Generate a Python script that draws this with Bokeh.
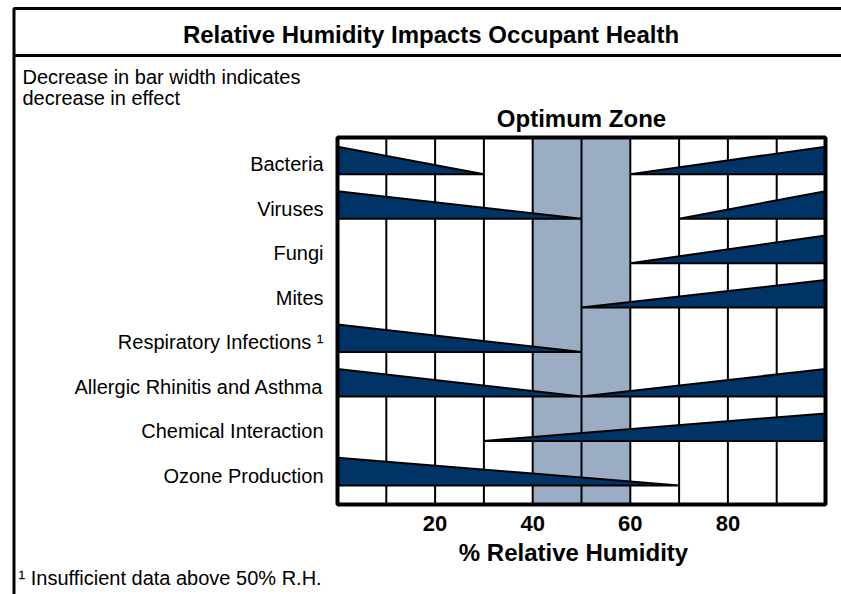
from bokeh.plotting import figure
from bokeh.models import Range1d, ColumnDataSource
from bokeh.core.properties import value
from bokeh.embed import file_html
from bokeh.resources import INLINE

# ---------------- data ----------------
categories = ["Bacteria", "Viruses", "Fungi", "Mites",
              "Respiratory Infections \u00b9", "Allergic Rhinitis and Asthma",
              "Chemical Interaction", "Ozone Production"]
# effect decreasing from 0 % RH up to this value (None = no low-humidity wedge)
low_end = [30, 50, None, None, 50, 50, None, 70]
# effect increasing from this value up to 100 % RH (None = no high-humidity wedge)
high_start = [60, 70, 60, 50, None, 50, 30, None]
optimum_zone = [40, 60]
grid_values = [10, 20, 30, 40, 50, 60, 70, 80, 90]
tick_values = [20, 40, 60, 80]
rh_min, rh_max = 0, 100

title_text = "Relative Humidity Impacts Occupant Health"
note_lines = ["Decrease in bar width indicates", "decrease in effect"]
zone_text = "Optimum Zone"
x_label = "% Relative Humidity"
footnote = "\u00b9 Insufficient data above 50% R.H."

# ---------------- layout ----------------
W, H = 841, 594
FL, FR, FT, FB = 337, 825, 137, 504   # chart area edges in px
ROW = 44.45
Y_TOP = -0.517
Y_BOT = Y_TOP + (FB - FT) / ROW
HALF = 0.31                   # half wedge height in row units

def px2x(px):
    return (px - FL) * (rh_max - rh_min) / (FR - FL) + rh_min

def py2y(py):
    return Y_TOP + (py - FT) / ROW

FONT = "Liberation Sans"
NAVY = "#003366"
SHADE = "#9badc4"

p = figure(width=W, height=H, output_backend="svg", toolbar_location=None,
           x_range=Range1d(px2x(0), px2x(W)), y_range=Range1d(py2y(H), py2y(0)),
           min_border=0, x_axis_type=None, y_axis_type=None)
p.grid.visible = False
p.outline_line_color = None
p.background_fill_color = "white"
p.border_fill_color = "white"

# outer box (left + top edges) and title divider
big_x, big_y = px2x(3000), py2y(3000)
p.line(x=[px2x(13.5), px2x(13.5), big_x], y=[big_y, py2y(8), py2y(8)],
       line_color="black", line_width=3)
p.line(x=[px2x(13.5), big_x], y=[py2y(55), py2y(55)],
       line_color="black", line_width=3)

# optimum zone shading
p.quad(left=[optimum_zone[0]], right=[optimum_zone[1]], top=[Y_TOP], bottom=[Y_BOT],
       fill_color=SHADE, line_color=None)

# grid lines
p.segment(x0=grid_values, y0=[Y_TOP] * len(grid_values),
          x1=grid_values, y1=[Y_BOT] * len(grid_values),
          line_color="black", line_width=2)

# wedges
xs, ys = [], []
for i, (lo, hi) in enumerate(zip(low_end, high_start)):
    if lo is not None:
        xs.append([rh_min, rh_min, lo])
        ys.append([i + HALF, i - HALF, i + HALF])
    if hi is not None:
        xs.append([hi, rh_max, rh_max])
        ys.append([i + HALF, i - HALF, i + HALF])
p.patches(xs, ys, fill_color=NAVY, line_color="black", line_width=2)

# chart area frame
p.quad(left=[rh_min], right=[rh_max], top=[Y_TOP], bottom=[Y_BOT],
       fill_color=None, line_color="black", line_width=4)

# category labels (y axis)
cat_src = ColumnDataSource(dict(x=[px2x(323)] * len(categories),
                                y=[i + 0.09 for i in range(len(categories))],
                                text=categories))
p.text(x="x", y="y", text="text", source=cat_src, text_font=value(FONT),
       text_font_size="20px", text_color="black", text_align="right",
       text_baseline="middle")

# x tick labels
tick_src = ColumnDataSource(dict(x=tick_values, y=[py2y(523)] * len(tick_values),
                                 text=[str(v) for v in tick_values]))
p.text(x="x", y="y", text="text", source=tick_src, text_font=value(FONT),
       text_font_size="22px", text_font_style="bold", text_color="black",
       text_align="center", text_baseline="middle")

# other texts
def add_text(x, y, text, size, bold=False, align="left"):
    p.text(x=[x], y=[y], text=[text], text_font=value(FONT),
           text_font_size=size, text_color="black",
           text_font_style="bold" if bold else "normal",
           text_align=align, text_baseline="middle")

add_text(px2x(573), py2y(552), x_label, "24px", bold=True, align="center")
add_text(px2x(430.5), py2y(33.5), title_text, "24px", bold=True, align="center")
add_text(px2x(22), py2y(76), note_lines[0], "20px")
add_text(px2x(22), py2y(97), note_lines[1], "20px")
add_text((optimum_zone[0] + optimum_zone[1]) / 2, py2y(118), zone_text, "24px",
         bold=True, align="center")
add_text(px2x(18), py2y(577), footnote, "20px")

open("out.html", "w").write(file_html(p, INLINE))
